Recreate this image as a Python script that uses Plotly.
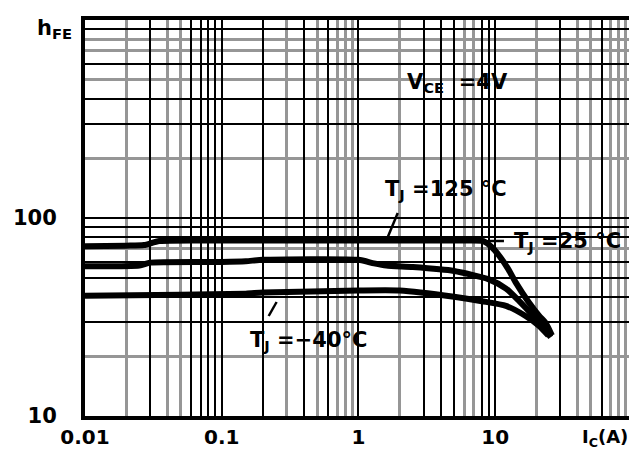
import plotly.graph_objects as go

# ---- data ----
ic_125 = [0.01, 0.02, 0.027, 0.035, 0.1, 1, 3, 6, 8.2, 9.5, 10.7, 12.5, 14.2, 17.6, 21, 23.4, 26]
hfe_125 = [72, 72.5, 73, 76.5, 77, 77, 77, 77, 76.5, 71, 64.5, 55, 47, 37.5, 32, 29.5, 25.5]

ic_25 = [0.01, 0.025, 0.03, 0.1, 0.15, 0.2, 1, 1.3, 1.6, 2.5, 5, 9, 12, 15, 19, 23, 25.5]
hfe_25 = [57, 57.5, 59.5, 60, 60.5, 61.5, 61.5, 59, 57.5, 56.5, 54, 49, 44, 38, 32, 27.5, 25]

ic_m40 = [0.01, 0.05, 0.15, 0.2, 1, 2, 5, 8, 12, 16.7, 21, 24.5]
hfe_m40 = [40.5, 41, 41.5, 42, 43, 43, 40, 38, 36, 32, 28.5, 25.5]

x_tick_labels = {0.01: "0.01", 0.1: "0.1", 1: "1", 10: "10"}
y_tick_labels = {10: "10", 100: "100"}

x_dark_grid = [0.01, 0.03, 0.06, 0.07, 0.08, 0.09, 0.1, 0.2, 0.4, 0.6, 1, 3, 4, 5, 8, 9, 10, 30, 60, 100]
x_light_grid = [0.02, 0.04, 0.05, 0.3, 0.5, 0.7, 0.8, 0.9, 2, 6, 7, 20, 40, 50, 70, 80, 90]
y_dark_grid = [10, 30, 40, 50, 60, 80, 90, 100, 300, 400, 600, 900, 1000]
y_light_grid = [20, 70, 200, 500, 700, 800]

# ---- layout geometry ----
W, H = 637, 450
L, R, T, B = 77, 632, 12, 408


def px(x):
    return (x - L) / (R - L)


def py(y):
    return (B - y) / (B - T)


FONT = "DejaVu Sans"
fig = go.Figure()
for xs, ys in [(ic_125, hfe_125), (ic_25, hfe_25), (ic_m40, hfe_m40)]:
    fig.add_trace(go.Scatter(x=xs, y=ys, mode="lines",
                             line=dict(color="black", width=6, shape="spline", smoothing=0.6),
                             showlegend=False, hoverinfo="skip"))

fig.update_xaxes(type="log", range=[-2.0, 2.03],
                 tickmode="array", tickvals=x_dark_grid,
                 ticktext=[x_tick_labels.get(v, "") for v in x_dark_grid],
                 showgrid=True, gridcolor="black", gridwidth=2,
                 minor=dict(tickvals=x_light_grid, showgrid=True, gridcolor="#969696", gridwidth=3, ticks=""),
                 showline=True, mirror=True, linecolor="black", linewidth=4,
                 ticks="", ticklabelstandoff=0,
                 tickfont=dict(family=FONT, size=20, color="black", weight="bold"),
                 zeroline=False)
fig.update_yaxes(type="log", range=[1, 3],
                 tickmode="array", tickvals=y_dark_grid,
                 ticktext=[y_tick_labels.get(v, "") for v in y_dark_grid],
                 showgrid=True, gridcolor="black", gridwidth=2,
                 minor=dict(tickvals=y_light_grid, showgrid=True, gridcolor="#969696", gridwidth=3, ticks=""),
                 showline=True, mirror=True, linecolor="black", linewidth=4,
                 ticks="", ticklabelstandoff=20,
                 tickfont=dict(family=FONT, size=21, color="black", weight="bold"),
                 zeroline=False)

# white label boxes (between grid and traces)
boxes = [(355, 58, 556, 91), (355, 153, 530, 209), (497, 212, 632, 256), (216, 317, 392, 350)]
shapes = []
for x0, y0, x1, y1 in boxes:
    shapes.append(dict(type="rect", xref="paper", yref="paper",
                       x0=px(x0), x1=px(x1), y0=py(y1), y1=py(y0),
                       fillcolor="white", line=dict(width=0), layer="between"))
# leader lines
leaders = [(392, 205, 382, 229), (484, 233, 499, 233), (270, 294, 262, 308)]
for x0, y0, x1, y1 in leaders:
    shapes.append(dict(type="line", xref="paper", yref="paper",
                       x0=px(x0), x1=px(x1), y0=py(y0), y1=py(y1),
                       line=dict(color="black", width=2.5), layer="above"))

texts = [
    ("V<sub>CE</sub>  =4V", 452, 75, 21),
    ("T<sub>J</sub> =125 °C", 441, 182, 21),
    ("T<sub>J</sub> =25 °C", 563, 234, 21),
    ("T<sub>J</sub> =−40°C", 302, 333, 21),
    ("h<sub>FE</sub>", 46, 21, 21),
    ("I<sub>C</sub>(A)", 601, 430, 18),
]
annotations = []
for t, x, y, s in texts:
    annotations.append(dict(text=t, xref="paper", yref="paper", x=px(x), y=py(y),
                            xanchor="center", yanchor="middle", showarrow=False,
                            font=dict(family=FONT, size=s, color="black", weight="bold")))

fig.update_layout(width=W, height=H, margin=dict(l=L, r=W - R, t=T, b=H - B),
                  paper_bgcolor="white", plot_bgcolor="white",
                  shapes=shapes, annotations=annotations)

fig.write_html("out.html")
